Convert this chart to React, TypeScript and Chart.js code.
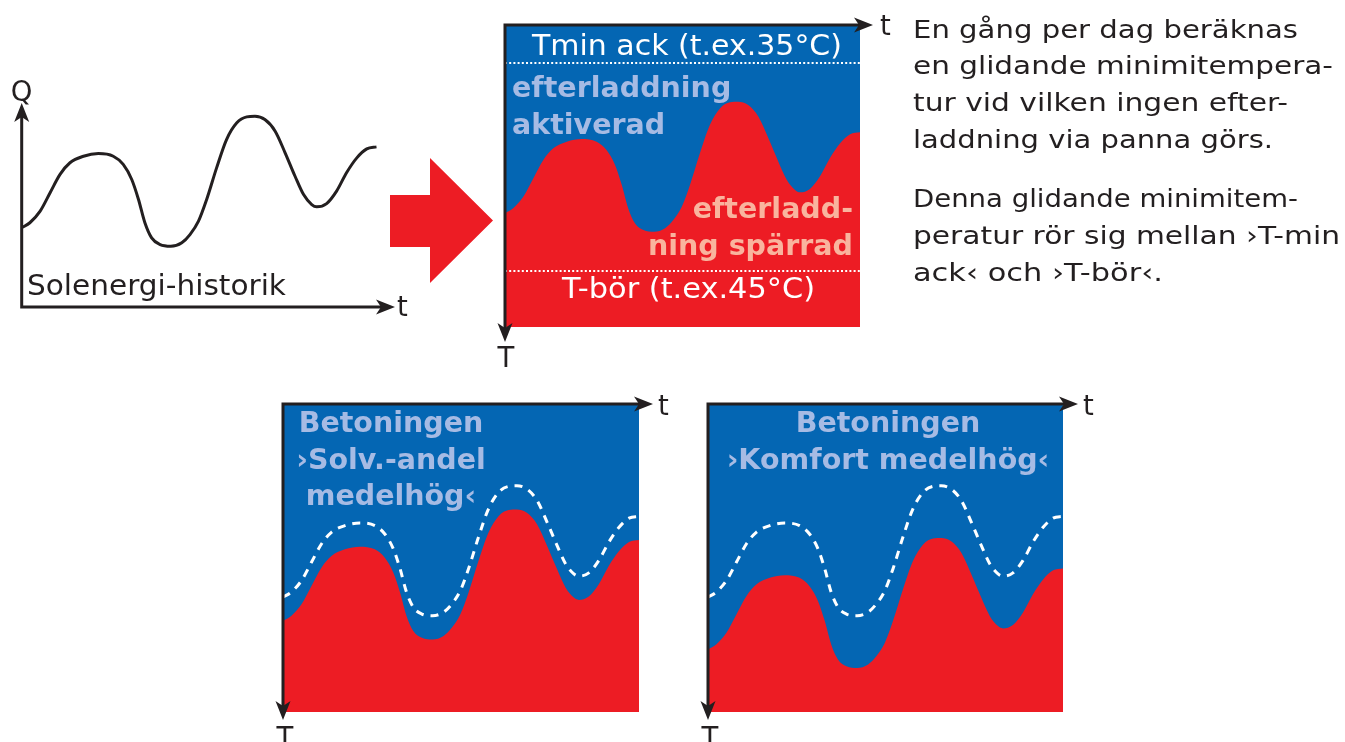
import React, { useEffect, useRef } from "react";
import { Chart, registerables } from "chart.js";

Chart.register(...registerables);

// ---------- data ----------
// time positions (0..100 across each panel)
const tPoints = [0, 2.3, 5.2, 8.0, 10.8, 13.6, 17.4, 21.6, 25.8, 28.6, 31.0, 32.9, 34.7, 36.6, 39.0, 42.0, 45.1, 47.4, 49.8, 52.1, 54.9, 57.7, 60.6, 63.4, 65.7, 68.5, 71.4, 74.2, 77.0, 79.4, 81.7, 83.1, 85.9, 88.7, 91.5, 94.4, 97.2, 100];
// solar energy history (Q, arbitrary units 0..100)
const solarQ = [38.8, 41.3, 47.0, 56.0, 65.0, 70.7, 73.9, 75.2, 73.9, 69.9, 62.5, 52.7, 41.3, 33.9, 30.6, 29.8, 31.5, 35.5, 42.1, 52.7, 68.2, 82.1, 90.3, 93.2, 93.5, 91.9, 86.2, 75.6, 64.1, 55.1, 50.2, 49.1, 50.7, 56.8, 65.8, 73.1, 77.5, 78.5];
// sliding minimum temperature (°C)
const slidingTmin = [42.22, 41.98, 41.42, 40.54, 39.66, 39.10, 38.78, 38.65, 38.78, 39.18, 39.90, 40.86, 41.98, 42.70, 43.03, 43.11, 42.94, 42.55, 41.91, 40.86, 39.34, 37.98, 37.17, 36.89, 36.86, 37.02, 37.58, 38.62, 39.74, 40.62, 41.10, 41.21, 41.05, 40.46, 39.58, 38.86, 38.42, 38.33];
// emphasis "Solv.-andel medelhög"
const tminSolv = [43.36, 43.12, 42.56, 41.68, 40.80, 40.24, 39.92, 39.79, 39.92, 40.32, 41.04, 42.00, 43.12, 43.84, 44.17, 44.25, 44.08, 43.69, 43.05, 42.00, 40.48, 39.12, 38.31, 38.03, 38.00, 38.16, 38.72, 39.76, 40.88, 41.76, 42.24, 42.35, 42.19, 41.60, 40.72, 40.00, 39.56, 39.47];
// emphasis "Komfort medelhög"
const tminKomfort = [44.73, 44.49, 43.93, 43.05, 42.17, 41.61, 41.29, 41.16, 41.29, 41.69, 42.41, 43.37, 44.49, 45.21, 45.54, 45.62, 45.45, 45.06, 44.42, 43.37, 41.85, 40.49, 39.68, 39.40, 39.37, 39.53, 40.09, 41.13, 42.25, 43.13, 43.61, 43.72, 43.56, 42.97, 42.09, 41.37, 40.93, 40.84];
// reference levels (°C)
const tminAck = 35;
const tBor = 45;

// texts
const textTminAck = "Tmin ack (t.ex.35°C)";
const textTBor = "T-bör (t.ex.45°C)";
const textActive = ["efterladdning", "aktiverad"];
const textBlocked = ["efterladd-", "ning spärrad"];
const textSolv = ["Betoningen", "›Solv.-andel", "medelhög‹"];
const textKomfort = ["Betoningen", "›Komfort medelhög‹"];
const textSolar = "Solenergi-historik";
const sideParagraph1 = ["En gång per dag beräknas", "en glidande minimitempera-", "tur vid vilken ingen efter-", "laddning via panna görs."];
const sideParagraph2 = ["Denna glidande minimitem-", "peratur rör sig mellan ›T-min", "ack‹ och ›T-bör‹."];
const sideWidths1 = [385, 420, 375, 360];
const sideWidths2 = [385, 427, 250];

// ---------- styles ----------
const INK = "#231f20";
const BLUE = "#0466b3";
const RED = "#ed1c24";
const LIGHTBLUE = "#a6bbe4";
const SALMON = "#f9b49e";
const FONT = "'DejaVu Sans', Verdana, sans-serif";

const pts = (vals: number[]) => vals.map((v, i) => ({ x: tPoints[i], y: v }));

function drawArrowHead(ctx: CanvasRenderingContext2D, x: number, y: number, dx: number, dy: number) {
  const L = 19, W = 7.5, N = 5;
  const px = -dy, py = dx;
  ctx.beginPath();
  ctx.moveTo(x, y);
  ctx.lineTo(x - dx * L + px * W, y - dy * L + py * W);
  ctx.lineTo(x - dx * (L - N), y - dy * (L - N));
  ctx.lineTo(x - dx * L - px * W, y - dy * L - py * W);
  ctx.closePath();
  ctx.fill();
}

function axesPlugin(kind: "up" | "down", xExtra: number, yExtra: number) {
  return {
    id: "axesArrows",
    afterDatasetsDraw(chart: any) {
      const { ctx, chartArea } = chart;
      const { left, right, top, bottom } = chartArea;
      ctx.save();
      ctx.strokeStyle = INK;
      ctx.fillStyle = INK;
      ctx.lineWidth = 3;
      ctx.lineJoin = "miter";
      ctx.lineCap = "butt";
      const xTip = right + xExtra;
      if (kind === "up") {
        const yTip = top - yExtra;
        ctx.beginPath();
        ctx.moveTo(left, yTip + 10);
        ctx.lineTo(left, bottom);
        ctx.lineTo(xTip - 10, bottom);
        ctx.stroke();
        drawArrowHead(ctx, left, yTip, 0, -1);
        drawArrowHead(ctx, xTip, bottom, 1, 0);
      } else {
        const yTip = bottom + yExtra;
        ctx.beginPath();
        ctx.moveTo(xTip - 10, top);
        ctx.lineTo(left, top);
        ctx.lineTo(left, yTip - 10);
        ctx.stroke();
        drawArrowHead(ctx, xTip, top, 1, 0);
        drawArrowHead(ctx, left, yTip, 0, 1);
      }
      ctx.restore();
    },
  };
}

const backgroundPlugin = {
  id: "plotBackground",
  beforeDatasetsDraw(chart: any, _args: any, opts: any) {
    if (!opts || !opts.color) return;
    const { ctx, chartArea } = chart;
    ctx.save();
    ctx.fillStyle = opts.color;
    ctx.fillRect(chartArea.left, chartArea.top, chartArea.right - chartArea.left, chartArea.bottom - chartArea.top);
    ctx.restore();
  },
};

function baseOptions(padding: any, yMin: number, yMax: number, reverse: boolean, bg: string | null) {
  return {
    animation: false,
    responsive: false,
    devicePixelRatio: 1,
    events: [],
    layout: { padding },
    plugins: {
      legend: { display: false },
      tooltip: { enabled: false },
      title: { display: false },
      plotBackground: { color: bg },
    },
    elements: { point: { radius: 0 } },
    scales: {
      x: { type: "linear", min: 0, max: 100, display: false },
      y: { type: "linear", min: yMin, max: yMax, reverse, display: false },
    },
  };
}

// ---------- chart configs ----------
function solarConfig() {
  return {
    type: "line",
    data: {
      datasets: [
        {
          data: pts(solarQ),
          borderColor: INK,
          borderWidth: 3,
          fill: false,
          cubicInterpolationMode: "monotone",
        },
      ],
    },
    options: baseOptions({ left: 21.7, right: 43.3, top: 33, bottom: 23 }, 0, 100, false, null),
    plugins: [backgroundPlugin, axesPlugin("up", 18.3, 0)],
  };
}

function slidingConfig() {
  return {
    type: "line",
    data: {
      datasets: [
        {
          data: pts(slidingTmin),
          borderWidth: 0,
          borderColor: RED,
          backgroundColor: RED,
          fill: "start",
          cubicInterpolationMode: "monotone",
          order: 3,
        },
        {
          data: [{ x: 0, y: tminAck }, { x: 100, y: tminAck }],
          borderColor: "#ffffff",
          borderWidth: 2,
          borderDash: [2, 2.2],
          fill: false,
          order: 1,
        },
        {
          data: [{ x: 0, y: tBor }, { x: 100, y: tBor }],
          borderColor: "#ffffff",
          borderWidth: 2,
          borderDash: [2, 2.2],
          fill: false,
          order: 1,
        },
      ],
    },
    options: baseOptions({ left: 25, right: 40, top: 25, bottom: 53 }, 33.17, 47.69, true, BLUE),
    plugins: [backgroundPlugin, axesPlugin("down", 13, 15)],
  };
}

function emphasisConfig(values: number[], padding: any, xExtra: number) {
  return () => ({
    type: "line",
    data: {
      datasets: [
        {
          data: pts(values),
          borderWidth: 0,
          borderColor: RED,
          backgroundColor: RED,
          fill: "start",
          cubicInterpolationMode: "monotone",
          order: 3,
        },
        {
          data: pts(slidingTmin),
          borderColor: "#ffffff",
          borderWidth: 3,
          borderDash: [8, 7],
          fill: false,
          cubicInterpolationMode: "monotone",
          order: 1,
        },
      ],
    },
    options: baseOptions(padding, 32.93, 47.74, true, BLUE),
    plugins: [backgroundPlugin, axesPlugin("down", xExtra, 8)],
  });
}

function ChartCanvas({ left, top, width, height, make }: any) {
  const ref = useRef<HTMLCanvasElement>(null);
  useEffect(() => {
    const chart = new Chart(ref.current as HTMLCanvasElement, make() as any);
    return () => chart.destroy();
  }, []);
  return (
    <canvas
      ref={ref}
      width={width}
      height={height}
      style={{ position: "absolute", left, top, width, height }}
    />
  );
}

function T({ x, y, children, size = 27.5, weight = "normal", fill = INK, anchor = "start", w }: any) {
  const extra: any = {};
  if (w) {
    extra.textLength = w;
    extra.lengthAdjust = "spacingAndGlyphs";
  }
  return (
    <text
      x={x}
      y={y}
      fontFamily={FONT}
      fontSize={size}
      fontWeight={weight}
      fill={fill}
      textAnchor={anchor}
      {...extra}
    >
      {children}
    </text>
  );
}

export default function App() {
  const solvMake = emphasisConfig(tminSolv, { left: 23, right: 41, top: 24, bottom: 30 }, 14);
  const komfortMake = emphasisConfig(tminKomfort, { left: 28, right: 37, top: 24, bottom: 30 }, 15);
  return (
    <div
      style={{
        position: "absolute",
        left: 0,
        top: 0,
        width: 1345,
        height: 742,
        overflow: "hidden",
        background: "#ffffff",
      }}
    >
      <ChartCanvas left={0} top={70} width={420} height={260} make={solarConfig} />
      <ChartCanvas left={480} top={0} width={420} height={380} make={slidingConfig} />
      <ChartCanvas left={260} top={380} width={420} height={362} make={solvMake} />
      <ChartCanvas left={680} top={380} width={420} height={362} make={komfortMake} />
      <svg
        width={1345}
        height={742}
        style={{ position: "absolute", left: 0, top: 0, pointerEvents: "none" }}
      >
        <polygon points="390,195 430,195 430,158 493,220.5 430,283 430,247 390,247" fill={RED} />

        {/* panel 1 */}
        <T x={21.5} y={101} anchor="middle">Q</T>
        <T x={27} y={295} w={259}>{textSolar}</T>
        <T x={397} y={316}>t</T>

        {/* panel 2 */}
        <T x={880} y={35}>t</T>
        <T x={506} y={367} anchor="middle">T</T>
        <T x={532} y={55} fill="#ffffff" w={310}>{textTminAck}</T>
        <T x={512} y={97} size={28.5} weight="bold" fill={LIGHTBLUE}>{textActive[0]}</T>
        <T x={512} y={134} size={28.5} weight="bold" fill={LIGHTBLUE}>{textActive[1]}</T>
        <T x={853} y={218} size={28.5} weight="bold" fill={SALMON} anchor="end">{textBlocked[0]}</T>
        <T x={853} y={255} size={28.5} weight="bold" fill={SALMON} anchor="end">{textBlocked[1]}</T>
        <T x={562} y={298} fill="#ffffff" w={253}>{textTBor}</T>

        {/* right text */}
        {sideParagraph1.map((s, i) => (
          <T key={"a" + i} x={913} y={37.5 + i * 36.8} size={24.5} w={sideWidths1[i]}>{s}</T>
        ))}
        {sideParagraph2.map((s, i) => (
          <T key={"b" + i} x={913} y={207 + i * 37} size={24.5} w={sideWidths2[i]}>{s}</T>
        ))}

        {/* panel 3 */}
        <T x={658} y={415}>t</T>
        <T x={285} y={747} anchor="middle">T</T>
        {textSolv.map((s, i) => (
          <T key={"s" + i} x={391} y={432 + i * 36.5} size={28.5} weight="bold" fill={LIGHTBLUE} anchor="middle">{s}</T>
        ))}

        {/* panel 4 */}
        <T x={1083} y={415}>t</T>
        <T x={710} y={747} anchor="middle">T</T>
        {textKomfort.map((s, i) => (
          <T key={"k" + i} x={888} y={432 + i * 36.5} size={28.5} weight="bold" fill={LIGHTBLUE} anchor="middle">{s}</T>
        ))}
      </svg>
    </div>
  );
}
